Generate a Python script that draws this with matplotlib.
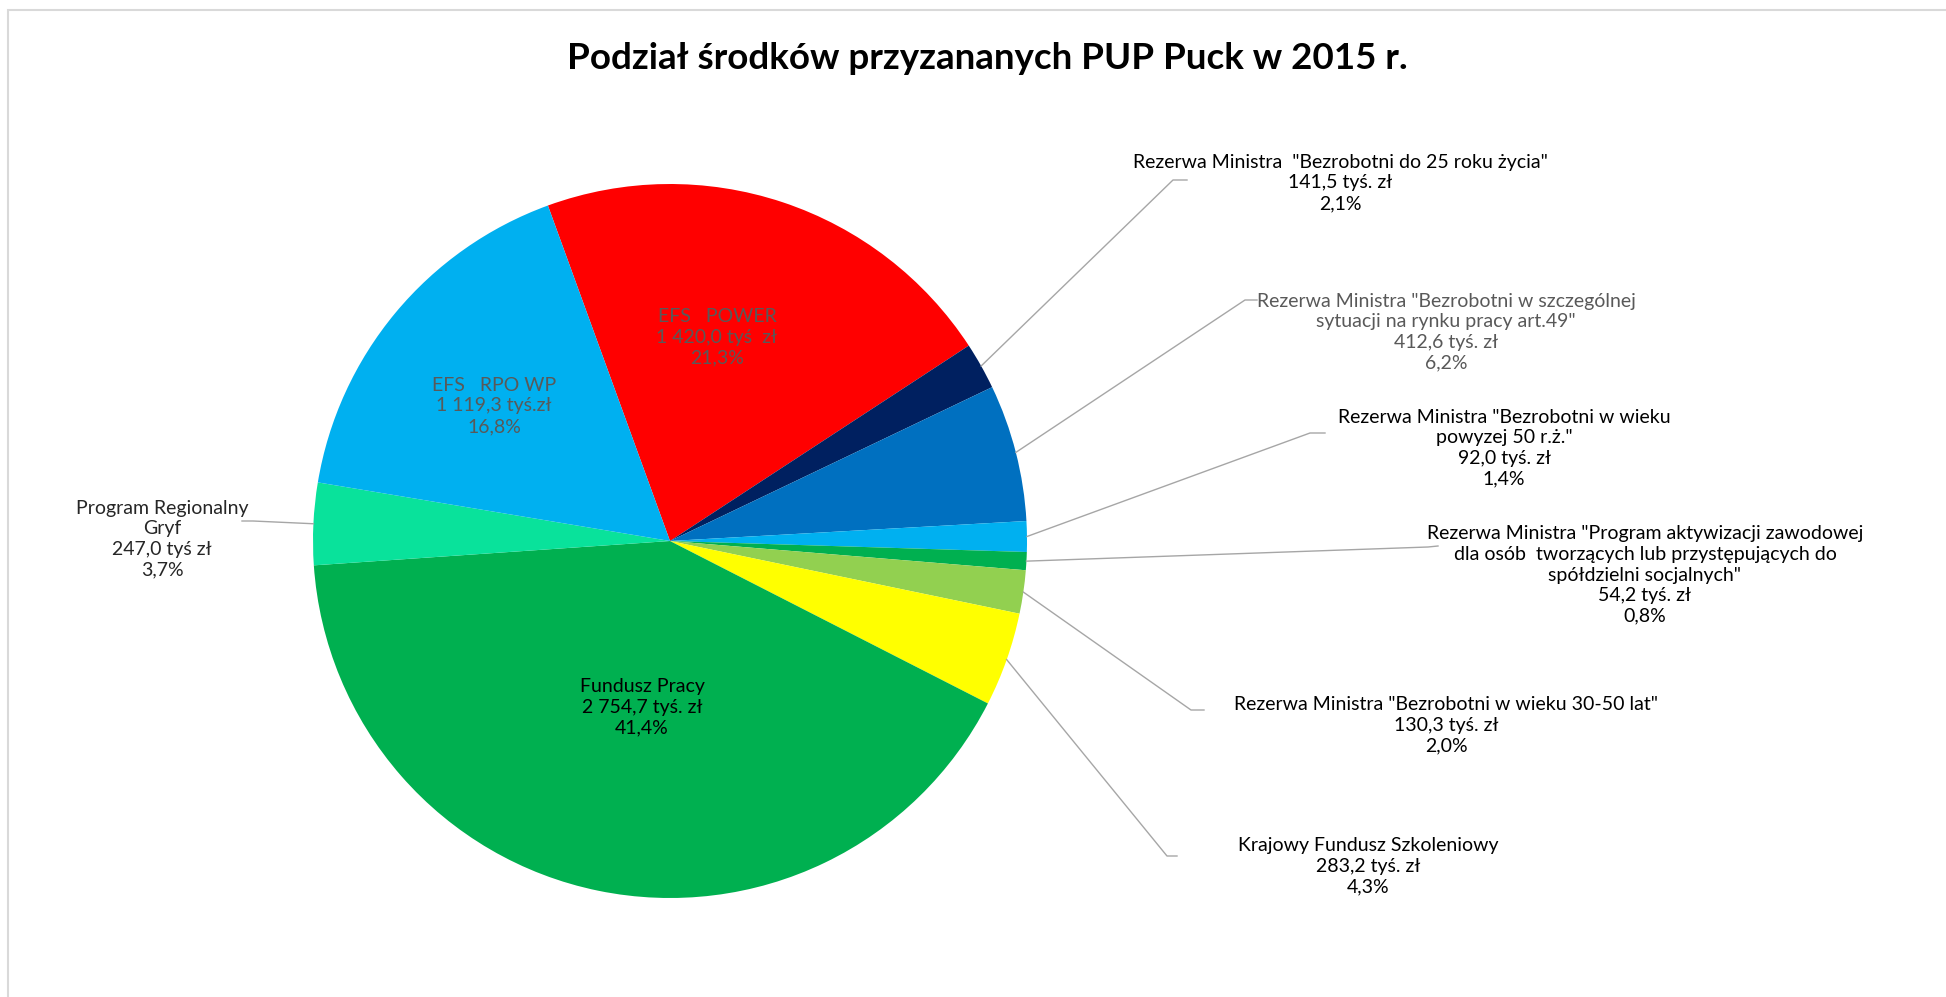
import numpy as np
import matplotlib.pyplot as plt
from matplotlib.patches import Rectangle

plt.rcParams['font.family'] = ['Lato', 'DejaVu Sans']

# canvas size in pixels (dpi 100)
W, H = 1946, 997

# data - slices clockwise, starting with EFS POWER
names = [
    'EFS   POWER',
    'Rezerwa Ministra  "Bezrobotni do 25 roku życia"',
    'Rezerwa Ministra "Bezrobotni w szczególnej\nsytuacji na rynku pracy art.49"',
    'Rezerwa Ministra "Bezrobotni w wieku\npowyzej 50 r.ż."',
    'Rezerwa Ministra "Program aktywizacji zawodowej\ndla osób  tworzących lub przystępujących do\nspółdzielni socjalnych"',
    'Rezerwa Ministra "Bezrobotni w wieku 30-50 lat"',
    'Krajowy Fundusz Szkoleniowy',
    'Fundusz Pracy',
    'Program Regionalny\nGryf',
    'EFS   RPO WP',
]
values = [1420.0, 141.5, 412.6, 92.0, 54.2, 130.3, 283.2, 2754.7, 247.0, 1119.3]
value_labels = [
    '1 420,0 tyś  zł', '141,5 tyś. zł', '412,6 tyś. zł', '92,0 tyś. zł',
    '54,2 tyś. zł', '130,3 tyś. zł', '283,2 tyś. zł', '2 754,7 tyś. zł',
    '247,0 tyś zł', '1 119,3 tyś.zł',
]
colors = ['#FF0000', '#002060', '#0070C0', '#00B0F0', '#00B050',
          '#92D050', '#FFFF00', '#00B050', '#09E29B', '#00B0F0']
text_colors = ['#595959', '#000000', '#595959', '#000000', '#000000',
               '#000000', '#000000', '#000000', '#262626', '#595959']

total = sum(values)
pct_labels = [('%.1f%%' % (v / total * 100)).replace('.', ',') for v in values]

# layout (pixel coords, origin top-left)
pie_cx, pie_cy, pie_r = 670, 541, 357
label_xy = [(717, 337), (1340, 183), (1446, 332), (1504, 448), (1645, 575),
            (1446, 725), (1368, 866), (642, 707), (162, 539), (494, 406)]
# leader line: elbow point and short end, None for labels inside the pie
leaders = [None, ((1173, 180), (1187, 180)), ((1245, 300), (1257, 300)),
           ((1310, 433), (1325, 433)), ((1428, 547), (1438, 546)),
           ((1191, 710), (1204, 710)), ((1167, 856), (1177, 856)),
           None, ((253, 521), (242, 521)), None]


def fy(y):
    return H - y


fig = plt.figure(figsize=(W / 100, H / 100), dpi=100)
ax = fig.add_axes([0, 0, 1, 1])

wedges, _ = ax.pie(values, colors=colors, startangle=110, counterclock=False,
                   center=(pie_cx, fy(pie_cy)), radius=pie_r,
                   wedgeprops=dict(linewidth=0))

for i, w in enumerate(wedges):
    txt = names[i] + '\n' + value_labels[i] + '\n' + pct_labels[i]
    x, y = label_xy[i]
    ax.text(x, fy(y), txt, ha='center', va='center', fontsize=14,
            color=text_colors[i], linespacing=1.25)
    if leaders[i] is not None:
        mid = np.deg2rad((w.theta1 + w.theta2) / 2)
        sx = pie_cx + pie_r * np.cos(mid)
        sy = fy(pie_cy) + pie_r * np.sin(mid)
        (ex, ey), (tx, ty) = leaders[i]
        ax.plot([sx, ex, tx], [sy, fy(ey), fy(ty)], color='#A6A6A6', lw=1)

ax.text(987, fy(59), 'Podział środków przyzananych PUP Puck w 2015 r.',
        ha='center', va='center', fontsize=26.5, fontweight='bold')

# chart frame
ax.add_patch(Rectangle((8, -20), W + 20, fy(10) + 20, fill=False,
                       edgecolor='#D9D9D9', lw=1.5))

ax.set_xlim(0, W)
ax.set_ylim(0, H)
ax.set_aspect('equal')
ax.axis('off')

plt.savefig('out.png', dpi=100)
